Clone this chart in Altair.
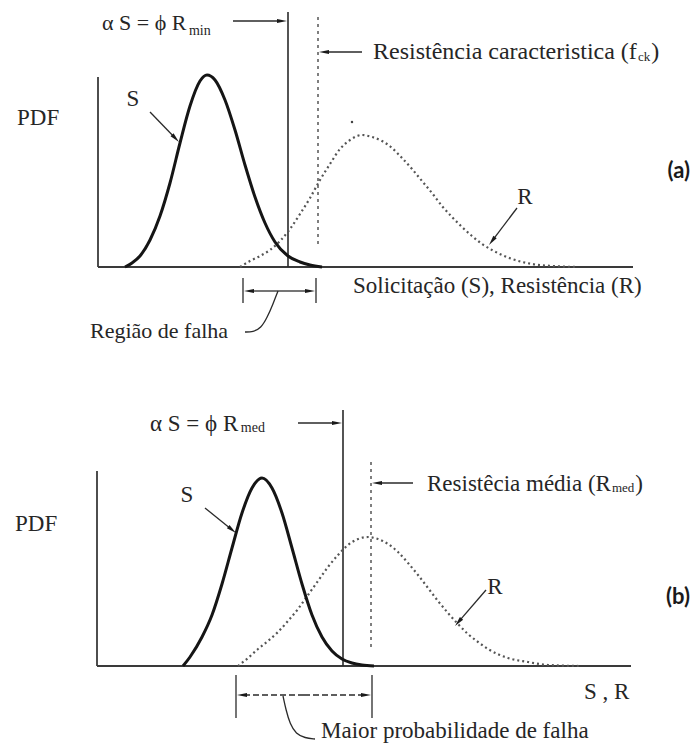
import math
import altair as alt
import pandas as pd

# ---------------- data (pixel-like coordinates) ----------------
# Panel (a) curves
S_A_X = [125, 132, 140, 150, 160, 170, 180, 190, 200, 207, 215, 225, 235, 245, 255, 265, 275, 288, 300, 310, 322]
S_A_Y = [267, 263, 256, 240, 216, 183, 143, 106, 81, 75, 80, 100, 130, 165, 197, 223, 242, 256, 262, 265, 267]
R_A_X = [240, 250, 260, 270, 280, 290, 300, 310, 320, 330, 340, 350, 362, 372, 382, 392, 402, 412, 422, 432,
         442, 452, 462, 472, 482, 492, 512, 532, 552, 577]
R_A_Y = [267, 261, 256, 250, 241, 229, 214, 198, 180, 164, 149, 140, 135, 137, 141, 148, 158, 169, 181, 193,
         206, 217, 227, 236, 244, 250, 259, 264, 266, 267]
# Panel (b) curves
S_B_X = [183, 190, 202, 212, 222, 232, 242, 252, 262, 272, 282, 292, 302, 312, 322, 332, 342, 352, 362, 374]
S_B_Y = [666, 657, 637, 615, 584, 548, 513, 488, 478, 488, 513, 548, 584, 615, 637, 651, 659, 663, 665, 666]
R_B_X = [238, 248, 258, 268, 278, 288, 298, 308, 318, 328, 338, 348, 358, 368, 378, 388, 398, 408, 418, 428,
         438, 448, 458, 468, 478, 488, 508, 528, 548, 580]
R_B_Y = [666, 658, 649, 641, 632, 621, 609, 595, 581, 567, 555, 545, 539, 537, 539, 544, 552, 563, 575, 588,
         601, 613, 624, 634, 642, 649, 658, 662, 665, 666]

# axes, limit lines, bracket ticks: (x, y, x2, y2)
AXES = [(98, 267, 633, 267), (98, 77, 98, 267), (97, 666, 631, 666), (97, 471, 97, 666)]
SOLID_LIMITS = [(288, 12, 288, 267), (343, 410, 343, 666)]
DASHED_LIMITS = [(318, 17, 318, 245), (371, 462, 371, 647)]
BRACKET_TICKS = [(243, 278, 243, 303), (316, 278, 316, 303), (236, 675, 236, 718), (372, 675, 372, 718)]

# arrows (from -> tip)
ARROWS = [
    (233, 21, 287, 21), (362, 52, 319, 52), (150, 112, 179, 142), (517, 208, 489, 245),
    (298, 423, 342, 423), (413, 483, 372, 483), (205, 508, 236, 533), (486, 590, 455, 626),
    (280, 291, 244, 291), (280, 291, 315, 291),
]
DASHED_ARROWS = [(304, 695, 237, 695), (304, 695, 371, 695)]

LEADER_A_X = [278, 273, 267, 261, 253, 245]
LEADER_A_Y = [291, 304, 318, 328, 332, 332]
LEADER_B_X = [283, 286, 290, 296, 305, 315]
LEADER_B_Y = [696, 710, 724, 734, 738, 739]

# texts
TEXT_LEFT = [
    ("α S = ϕ R", 102, 23, 22),
    ("Resistência caracteristica (f", 373, 52, 24),
    ("PDF", 17, 118, 23),
    ("Solicitação (S), Resistência (R)", 353, 286, 23),
    ("Região de falha", 90, 331, 22),
    ("α S = ϕ R", 150, 424, 23),
    ("Resistêcia média (R", 427, 484, 23),
    ("PDF", 15, 524, 23),
    ("S  , R", 584, 692, 23),
    ("Maior probabilidade de falha", 321, 731, 23),
]
TEXT_CENTER = [("S", 133, 99, 23), ("R", 525, 197, 23), ("S", 187, 495, 23), ("R", 495, 587, 23)]
TEXT_BOLD = [("(a)", 690, 171, 22), ("(b)", 690, 597, 22)]
# subscript pieces attached after a base text: (base index, subscript, dy, size, closing)
SUBS = [(0, "min", 8, 14, ""), (1, "ck", 5, 13, ")"), (5, "med", 4, 14, ""), (6, "med", 4, 13, ")")]
DOT = [(352, 122)]

# ---------------- helpers ----------------
TW = {' ': 250, '(': 333, ')': 333, ',': 250, '=': 564, 'R': 667, 'S': 556, 'P': 556, 'D': 722, 'F': 556,
      'M': 889, 'a': 444, 'b': 500, 'c': 444, 'd': 500, 'e': 444, 'f': 333, 'g': 500, 'h': 500, 'i': 278,
      'k': 500, 'l': 278, 'm': 778, 'n': 500, 'o': 500, 'p': 500, 'r': 333, 's': 389, 't': 278, 'ç': 444,
      'ã': 444, 'ê': 444, 'é': 444, 'α': 520, 'ϕ': 600}


def tw(s, fs):
    return sum(TW.get(c, 500) for c in s) * fs / 1000.0


W, H = 683, 733
XS = alt.Scale(domain=[8, 8 + W], nice=False, zero=False)
YS = alt.Scale(domain=[8, 8 + H], nice=False, zero=False, reverse=True)


def X(f):
    return alt.X(f, type="quantitative", scale=XS, axis=None)


def Y(f):
    return alt.Y(f, type="quantitative", scale=YS, axis=None)


def rules(segs, **kw):
    df = pd.DataFrame(segs, columns=["x", "y", "x2", "y2"])
    return alt.Chart(df).mark_rule(**kw).encode(x=X("x"), y=Y("y"), x2="x2", y2="y2")


def curve(xs_list, ys_list, **kw):
    rows = []
    for g, (xs, ys) in enumerate(zip(xs_list, ys_list)):
        for i, (a, b) in enumerate(zip(xs, ys)):
            rows.append({"x": a, "y": b, "g": g, "i": i})
    df = pd.DataFrame(rows)
    return alt.Chart(df).mark_line(**kw).encode(x=X("x"), y=Y("y"), detail="g:N", order="i:Q")


HEAD = 10.0  # arrowhead length in px


def arrow_layers(arrs, dash=None):
    shafts, heads = [], []
    for (x1, y1, x2, y2) in arrs:
        dx, dy = x2 - x1, y2 - y1
        L = math.hypot(dx, dy)
        ux, uy = dx / L, dy / L
        shafts.append((x1, y1, x2 - ux * (HEAD - 2), y2 - uy * (HEAD - 2)))
        heads.append({"x": x2 - ux * HEAD / 2, "y": y2 - uy * HEAD / 2,
                      "ang": math.degrees(math.atan2(dx, -dy)) % 360})
    kw = dict(color="#2a2a2a", strokeWidth=1.3)
    if dash:
        kw["strokeDash"] = dash
    shaft = rules(shafts, **kw)
    head = alt.Chart(pd.DataFrame(heads)).mark_point(
        shape="M0,-1L0.42,1L-0.42,1Z", filled=True, size=HEAD * HEAD, color="#1a1a1a", opacity=1,
        strokeWidth=0
    ).encode(x=X("x"), y=Y("y"), angle=alt.Angle("ang:Q", scale=None))
    return [shaft, head]


def texts(items, align, **kw):
    df = pd.DataFrame(items, columns=["t", "x", "y", "fs"])
    return alt.Chart(df).mark_text(align=align, baseline="middle", **kw).encode(
        x=X("x"), y=Y("y"), text="t:N", size=alt.Size("fs:Q", scale=None))


SERIF = dict(font="'Liberation Serif', 'Times New Roman', serif", color="#262626")

# subscripts placed after their base text
sub_items, close_items = [], []
for (bi, sub, dy, fs, close) in SUBS:
    t, x, y, bfs = TEXT_LEFT[bi]
    sx = x + tw(t, bfs) + 1
    sub_items.append((sub, sx, y + dy, fs))
    if close:
        close_items.append((close, sx + tw(sub, fs) + 1, y, bfs))

layers = [
    rules(AXES, color="#3a3a3a", strokeWidth=1.8),
    rules(SOLID_LIMITS, color="#2a2a2a", strokeWidth=1.6),
    rules(DASHED_LIMITS, color="#555555", strokeWidth=1.5, strokeDash=[3, 4]),
    rules(BRACKET_TICKS, color="#2a2a2a", strokeWidth=1.3),
    curve([R_A_X, R_B_X], [R_A_Y, R_B_Y], color="#555555", strokeWidth=2.2, strokeDash=[2, 3],
          interpolate="monotone"),
    curve([S_A_X, S_B_X], [S_A_Y, S_B_Y], color="#151515", strokeWidth=3, interpolate="monotone"),
    curve([LEADER_A_X, LEADER_B_X], [LEADER_A_Y, LEADER_B_Y], color="#2a2a2a", strokeWidth=1.3,
          interpolate="basis"),
    *arrow_layers(ARROWS),
    *arrow_layers(DASHED_ARROWS, dash=[6, 3]),
    alt.Chart(pd.DataFrame(DOT, columns=["x", "y"])).mark_point(
        filled=True, size=6, color="#444444", opacity=1).encode(x=X("x"), y=Y("y")),
    texts(TEXT_LEFT, "left", **SERIF),
    texts(sub_items, "left", **SERIF),
    texts(close_items, "left", **SERIF),
    texts(TEXT_CENTER, "center", **SERIF),
    texts(TEXT_BOLD, "right", font="Lato", fontWeight="bold", color="#1a1a1a"),
]

chart = alt.layer(*layers).properties(width=W, height=H, padding=0, background="white").configure_view(
    stroke=None)

chart.save("out.html", embed_options={"renderer": "svg", "actions": False})
